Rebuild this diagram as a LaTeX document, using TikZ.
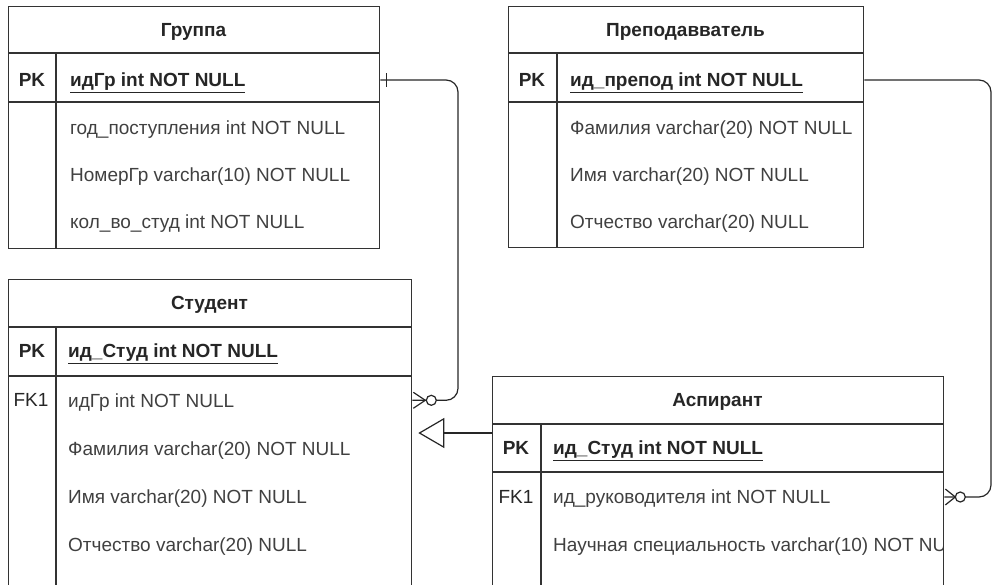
\documentclass[tikz,border=0pt]{standalone}
\usepackage{fontspec}
\setmainfont{Liberation Sans}
\usetikzlibrary{arrows.meta, calc, positioning}

\tikzset{
  tbl/.style={draw=black!80, line width=1.3pt, anchor=north west, inner sep=0pt},
  sep/.style={draw=black!80, line width=1.3pt},
  hdr/.style={font=\fontsize{19}{23}\selectfont\bfseries, text=black!85, inner sep=0pt, text height=13.5pt, text depth=0pt},
  key/.style={font=\fontsize{19}{23}\selectfont, text=black!85, inner sep=0pt, text height=13.5pt, text depth=0pt},
  pk/.style={font=\fontsize{19}{23}\selectfont\bfseries, text=black!85, anchor=west, inner sep=0pt, text height=13.5pt, text depth=0pt},
  fld/.style={font=\fontsize{19}{23}\selectfont, text=black!75, anchor=west, inner sep=0pt, text height=13.5pt, text depth=0pt},
  rel/.style={draw=black!85, line width=1.2pt, rounded corners=12pt},
  foot/.style={draw=black!85, line width=1.2pt, sharp corners},
  circ/.style={circle, draw=black!85, line width=1.2pt, fill=white, minimum size=10pt, inner sep=0pt},
}

\begin{document}
\begin{tikzpicture}[x=1pt, y=-1pt]
\useasboundingbox (0,0) rectangle (993,584);
\clip (0,0) rectangle (993,584);

% Группа
\node[tbl, minimum width=371pt, minimum height=242pt] (grp) at (8,6) {};
\draw[sep] (8,53) -- (379,53) (8,102) -- (379,102) (56,53) -- (56,248);
\node[hdr] (grpH) at (193.5,30) {Группа};
\node[key, font=\fontsize{19}{23}\selectfont\bfseries] (grpK) at (32,80) {PK};
\node[pk] (grpPK) at (70,80) {\underline{идГр int NOT NULL}};
\foreach \t [count=\i] in {год\_поступления int NOT NULL, НомерГр varchar(10) NOT NULL, кол\_во\_студ int NOT NULL}
  \node[fld] (grp\i) at (70,{80+47.3*\i}) {\t};

% Преподавватель
\node[tbl, minimum width=355pt, minimum height=241pt] (prp) at (508,6) {};
\draw[sep] (508,53) -- (863,53) (508,102) -- (863,102) (557,53) -- (557,247);
\node[hdr] (prpH) at (685.5,30) {Преподавватель};
\node[key, font=\fontsize{19}{23}\selectfont\bfseries] (prpK) at (532,80) {PK};
\node[pk] (prpPK) at (570,80) {\underline{ид\_препод int NOT NULL}};
\foreach \t [count=\i] in {Фамилия varchar(20) NOT NULL, Имя varchar(20) NOT NULL, Отчество varchar(20) NULL}
  \node[fld] (prp\i) at (570,{80+47.3*\i}) {\t};

% Студент
\node[tbl, minimum width=403pt, minimum height=330pt] (std) at (8,279) {};
\draw[sep] (8,327) -- (411,327) (8,376) -- (411,376) (56,327) -- (56,609);
\node[hdr] (stdH) at (209.5,303) {Студент};
\node[key, font=\fontsize{19}{23}\selectfont\bfseries] (stdK) at (32,351) {PK};
\node[pk] (stdPK) at (68,351) {\underline{ид\_Студ int NOT NULL}};
\node[key] (stdFK) at (31,400) {FK1};
\foreach \t [count=\i] in {идГр int NOT NULL, Фамилия varchar(20) NOT NULL, Имя varchar(20) NOT NULL, Отчество varchar(20) NULL}
  \node[fld] (std\i) at (68,{352+48.3*\i}) {\t};

% Аспирант
\node[tbl, minimum width=451pt, minimum height=230pt] (asp) at (492,376) {};
\draw[sep] (492,424) -- (943,424) (492,472) -- (943,472) (541,424) -- (541,606);
\node[hdr] (aspH) at (717.5,400) {Аспирант};
\node[key, font=\fontsize{19}{23}\selectfont\bfseries] (aspK) at (516,448) {PK};
\node[pk] (aspPK) at (553,448) {\underline{ид\_Студ int NOT NULL}};
\node[key] (aspFK) at (516,497) {FK1};
\node[fld] (asp1) at (553,497) {ид\_руководителя int NOT NULL};
\begin{scope}
\clip (541,520) rectangle (942,570);
\node[fld] (asp2) at (553,545) {Научная специальность varchar(10) NOT NULL};
\end{scope}

% Группа -- Студент
\coordinate (g2s) at (458,0);
\draw[rel] (grp.east |- grpPK) -- (g2s |- grpPK) -- (g2s |- std1) -- (std.east |- std1);
\draw[foot] ($(grp.east |- grpPK)+(6,-7)$) -- ++(0,14);
\draw[foot] ($(std.east |- std1)+(1,-8)$) -- ($(std.east |- std1)+(13,0)$) -- ($(std.east |- std1)+(1,8)$);
\node[circ] (c1) at ($(std.east |- std1)+(19,0)$) {};

% Преподавватель -- Аспирант
\coordinate (p2a) at (991,0);
\draw[rel] (prp.east |- prpPK) -- (p2a |- prpPK) -- (p2a |- asp1) -- (asp.east |- asp1);
\draw[foot] ($(asp.east |- asp1)+(1,-8)$) -- ($(asp.east |- asp1)+(11,0)$) -- ($(asp.east |- asp1)+(1,8)$);
\node[circ] (c2) at ($(asp.east |- asp1)+(16,0)$) {};

% Аспирант -> Студент
\coordinate (inh) at (0,433);
\draw[foot, -{Triangle[open, length=26pt, width=30pt, line width=1.2pt]}] (asp.west |- inh) -- ($(std.east |- inh)+(6,0)$);
\end{tikzpicture}
\end{document}
